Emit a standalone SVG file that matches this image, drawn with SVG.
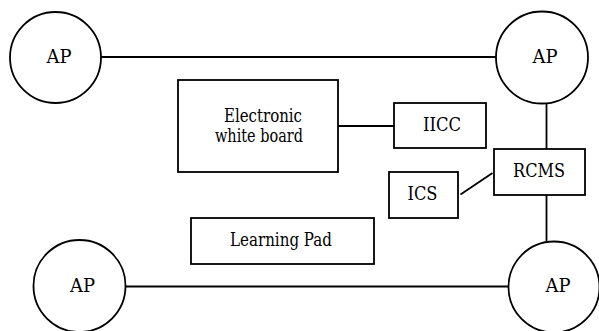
<svg xmlns="http://www.w3.org/2000/svg" width="599" height="331" viewBox="0 0 599 331">
<style>
.s{fill:#fff;stroke:#000;stroke-width:1.8}
.c line{stroke:#000;stroke-width:1.8}
text{font-family:"DejaVu Serif","Liberation Serif","Times New Roman",serif;font-size:18px;fill:#000;text-anchor:middle}
</style>
<rect width="599" height="331" fill="#fff"/>
<g class="c" id="connectors">
<line x1="101" y1="57" x2="496" y2="57"/>
<line x1="338" y1="126" x2="394" y2="126"/>
<line x1="546.5" y1="103" x2="546.5" y2="149"/>
<line x1="460.5" y1="194.5" x2="492.5" y2="173"/>
<line x1="546.5" y1="195" x2="546.5" y2="241"/>
<line x1="125" y1="286.5" x2="509" y2="286.5"/>
</g>
<g id="ap-tl"><circle class="s" cx="55.5" cy="57.5" r="45.5"/><text x="59" y="63" textLength="25" lengthAdjust="spacingAndGlyphs">AP</text></g>
<g id="ap-tr"><circle class="s" cx="542" cy="57.5" r="46"/><text x="545" y="63" textLength="25" lengthAdjust="spacingAndGlyphs">AP</text></g>
<g id="ap-bl"><circle class="s" cx="79.5" cy="286" r="46"/><text x="82.5" y="292" textLength="25" lengthAdjust="spacingAndGlyphs">AP</text></g>
<g id="ap-br"><circle class="s" cx="554" cy="287" r="45.5"/><text x="558" y="292" textLength="25" lengthAdjust="spacingAndGlyphs">AP</text></g>
<g id="ewb"><rect class="s" x="178" y="80" width="160" height="92"/><text x="263" y="122" textLength="78" lengthAdjust="spacingAndGlyphs">Electronic</text><text x="259" y="142" textLength="88" lengthAdjust="spacingAndGlyphs">white board</text></g>
<g id="iicc"><rect class="s" x="394" y="103" width="92" height="45"/><text x="442" y="131" textLength="38" lengthAdjust="spacingAndGlyphs">IICC</text></g>
<g id="rcms"><rect class="s" x="494" y="149" width="91" height="46"/><text x="539" y="177" textLength="52" lengthAdjust="spacingAndGlyphs">RCMS</text></g>
<g id="ics"><rect class="s" x="389" y="172" width="69" height="46"/><text x="422.5" y="200" textLength="30" lengthAdjust="spacingAndGlyphs">ICS</text></g>
<g id="lp"><rect class="s" x="191" y="218" width="183" height="46"/><text x="281" y="246" textLength="102" lengthAdjust="spacingAndGlyphs">Learning Pad</text></g>
</svg>
